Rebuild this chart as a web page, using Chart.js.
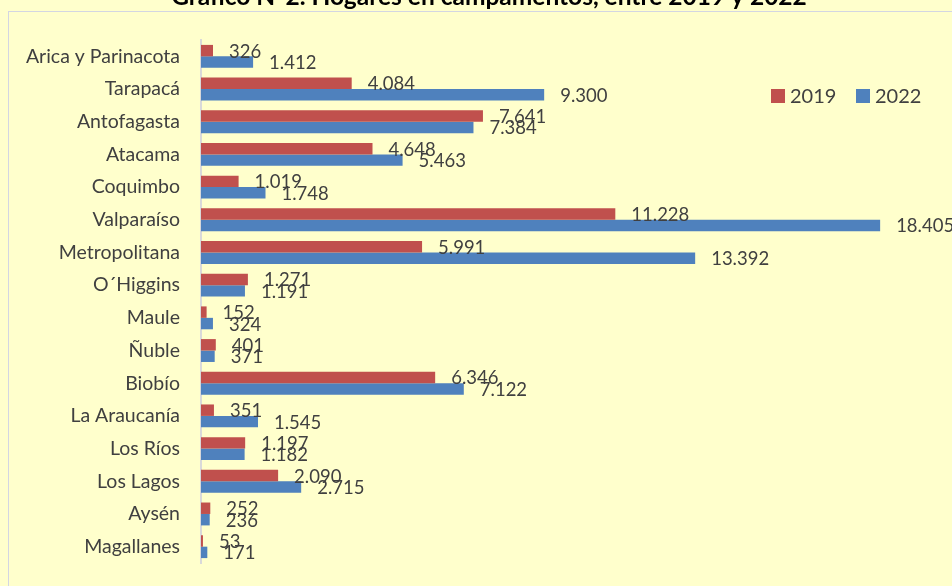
<!DOCTYPE html>
<html>
    <head>
        <title>Hogares en campamentos</title>
        <meta charset="UTF-8">
        <style>
            body { margin: 0; background: #FFFFCC; }
            #wrap { position: absolute; left: 0; top: 0; width: 952px; height: 586px; }
        </style>
    </head>
    <body>
        <div id="wrap">
            <canvas id="barChart" width="952" height="586" style="width:952px; height:586px"></canvas>
        </div>
        <script src="https://cdn.jsdelivr.net/npm/chart.js/dist/chart.umd.min.js"></script>
        <script>
          // ---------- data ----------
          const regiones = ['Arica y Parinacota', 'Tarapacá', 'Antofagasta', 'Atacama', 'Coquimbo',
                            'Valparaíso', 'Metropolitana', 'O´Higgins', 'Maule', 'Ñuble', 'Biobío',
                            'La Araucanía', 'Los Ríos', 'Los Lagos', 'Aysén', 'Magallanes'];
          const hogares2019 = [326, 4084, 7641, 4648, 1019, 11228, 5991, 1271, 152, 401, 6346, 351, 1197, 2090, 252, 53];
          const hogares2022 = [1412, 9300, 7384, 5463, 1748, 18405, 13392, 1191, 324, 371, 7122, 1545, 1182, 2715, 236, 171];
          const tituloGrafico = 'Gráfico N°2. Hogares en campamentos, entre 2019 y 2022';

          const FONT = 'Lato, "Noto Sans", sans-serif';
          const TEXT = '#404040';

          // miles con punto
          function fmt(v){
            return String(v).replace(/\B(?=(\d{3})+(?!\d))/g, '.');
          }

          // frame + title
          const decoPlugin = {
            id: 'deco',
            beforeDraw(chart){
              const ctx = chart.ctx;
              ctx.save();
              ctx.strokeStyle = '#D3D6E2';
              ctx.lineWidth = 1;
              ctx.strokeRect(8.5, 11.5, 1000, 1000);
              ctx.fillStyle = '#000';
              ctx.font = 'bold 24.5px ' + FONT;
              ctx.textAlign = 'center';
              ctx.textBaseline = 'alphabetic';
              ctx.fillText(tituloGrafico, 489, 5);
              ctx.restore();
            }
          };

          // value labels at bar ends
          const valuePlugin = {
            id: 'values',
            afterDatasetsDraw(chart){
              const ctx = chart.ctx;
              ctx.save();
              ctx.font = '18.5px ' + FONT;
              ctx.fillStyle = TEXT;
              ctx.textAlign = 'left';
              ctx.textBaseline = 'middle';
              chart.data.datasets.forEach((ds, i) => {
                chart.getDatasetMeta(i).data.forEach((bar, j) => {
                  ctx.fillText(fmt(ds.data[j]), bar.x + 16, bar.y + 1);
                });
              });
              ctx.restore();
            }
          };

          // legend inside plot
          const legendPlugin = {
            id: 'myLegend',
            afterDraw(chart){
              const ctx = chart.ctx;
              ctx.save();
              ctx.font = '20px ' + FONT;
              ctx.textBaseline = 'middle';
              ctx.textAlign = 'left';
              let x = 771;
              const y = 96;
              chart.data.datasets.forEach(ds => {
                ctx.fillStyle = ds.backgroundColor;
                ctx.fillRect(x, y - 7, 14, 14);
                ctx.fillStyle = TEXT;
                ctx.fillText(ds.label, x + 19, y + 1);
                x += 85;
              });
              ctx.restore();
            }
          };

          new Chart(document.getElementById('barChart'), {
            type: 'bar',
            data: {
              labels: regiones,
              datasets: [
                { label: '2019', data: hogares2019, backgroundColor: '#C0504D', borderWidth: 0 },
                { label: '2022', data: hogares2022, backgroundColor: '#4F81BD', borderWidth: 0 }
              ]
            },
            options: {
              indexAxis: 'y',
              responsive: false,
              maintainAspectRatio: false,
              animation: false,
              layout: { padding: { top: 40, bottom: 23, right: 13, left: 0 } },
              categoryPercentage: 0.7,
              barPercentage: 1.0,
              plugins: {
                legend: { display: false },
                tooltip: { enabled: false }
              },
              scales: {
                x: { display: false, min: 0, max: 20000 },
                y: {
                  afterFit: function(scale){
                    scale.width = 201;
                    scale.paddingTop = 0;     // tick padding otherwise eats the plot height
                    scale.paddingBottom = 0;
                  },
                  grid: { display: false, drawTicks: false },
                  border: { display: true, color: '#D9D9D9', width: 2 },
                  ticks: { padding: 21, color: TEXT, font: { family: FONT, size: 19.5 } }
                }
              }
            },
            plugins: [decoPlugin, valuePlugin, legendPlugin]
          });
        </script>
    </body>
</html>
